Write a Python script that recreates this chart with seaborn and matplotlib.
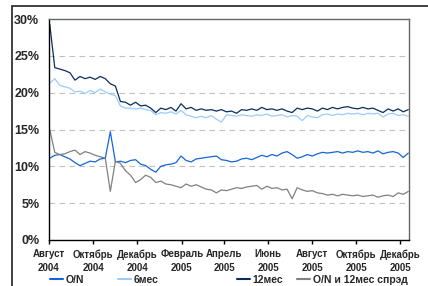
import pandas as pd
import matplotlib
matplotlib.use('Agg')
import matplotlib.pyplot as plt
import seaborn as sns
from matplotlib.lines import Line2D
from matplotlib.patches import Rectangle

# weekly readings, Aug 2004 - Dec 2005, % per year
start_date = '2004-08-02'
rate_on = [11.1, 11.5, 11.6, 11.3, 11.0, 10.5, 10.1, 10.4, 10.7, 10.6,
           11.0, 11.1, 14.7, 10.6, 10.7, 10.5, 10.8, 10.9, 10.3, 10.1,
           9.6, 9.2, 10.0, 10.2, 10.3, 10.5, 11.4, 10.8, 10.6, 11.0,
           11.1, 11.2, 11.3, 11.4, 10.9, 10.8, 10.6, 10.7, 11.0, 11.1,
           10.9, 11.2, 11.5, 11.3, 11.6, 11.4, 11.8, 12.0, 11.6, 11.1,
           11.3, 11.6, 11.4, 11.7, 11.9, 11.8, 11.9, 12.0, 11.8, 12.0,
           11.9, 12.1, 11.9, 12.0, 11.8, 12.1, 11.7, 11.9, 12.0, 11.8,
           11.2, 11.8]
rate_6m = [21.3, 21.9, 21.0, 20.8, 20.6, 20.1, 20.2, 19.9, 20.3, 20.0,
           20.5, 20.1, 19.8, 19.6, 18.2, 17.9, 17.9, 17.8, 17.9, 17.7,
           17.6, 17.0, 17.3, 17.2, 17.4, 17.1, 17.6, 17.0, 16.8, 16.6,
           16.8, 16.6, 16.9, 16.4, 16.0, 17.0, 16.9, 16.8, 17.0, 16.9,
           16.8, 17.0, 16.9, 17.1, 16.8, 16.9, 17.0, 16.7, 16.9, 16.8,
           16.2, 16.9, 16.7, 16.6, 17.0, 17.1, 16.9, 17.1, 17.0, 17.2,
           17.1, 17.2, 17.0, 17.2, 17.1, 17.2, 16.7, 17.1, 17.2, 16.9,
           17.0, 16.8]
rate_12m = [29.3, 23.4, 23.2, 23.0, 22.7, 21.7, 22.2, 21.9, 22.1, 21.8,
            22.2, 21.9, 21.2, 20.9, 18.8, 18.7, 18.3, 18.7, 18.2, 18.3,
            17.9, 17.3, 17.9, 17.7, 18.0, 17.5, 18.5, 17.8, 18.0, 17.6,
            17.8, 17.6, 17.7, 17.5, 17.7, 17.4, 17.5, 17.2, 17.7, 17.6,
            17.8, 17.6, 18.0, 17.7, 17.8, 17.6, 17.8, 17.5, 17.3, 17.9,
            17.7, 17.9, 17.8, 17.5, 17.9, 17.7, 18.0, 17.8, 18.0, 18.1,
            17.9, 17.8, 18.0, 17.8, 17.9, 17.6, 17.3, 17.8, 17.5, 17.8,
            17.4, 17.7]
spread = [15.0, 11.9, 11.6, 11.7, 12.0, 12.2, 11.6, 12.0, 11.8, 11.5,
          11.3, 11.1, 6.6, 10.7, 10.4, 9.4, 8.8, 7.8, 8.2, 8.8,
          8.5, 7.8, 8.0, 7.6, 7.5, 7.3, 7.1, 7.6, 7.3, 7.5,
          7.2, 6.9, 6.8, 6.4, 6.8, 6.7, 6.9, 7.1, 7.0, 7.2,
          7.3, 7.4, 6.9, 7.3, 7.0, 7.1, 6.8, 6.9, 5.6, 7.1,
          6.8, 6.6, 6.7, 6.4, 6.3, 6.1, 6.2, 6.0, 6.2, 6.1,
          6.0, 6.1, 5.9, 6.0, 6.1, 5.8, 6.0, 6.1, 5.9, 6.4,
          6.2, 6.6]

series_names = ['O/N', '6мес', '12мес', 'O/N и 12мес спрэд']
colors = ['#1565d8', '#99ccff', '#0b2d5e', '#808080']

tick_dates = ['2004-08-01', '2004-10-01', '2004-12-01', '2005-02-01', '2005-04-01',
              '2005-06-01', '2005-08-01', '2005-10-01', '2005-12-01']
tick_labels = ['Август\n2004', 'Октябрь\n2004', 'Декабрь\n2004', 'Февраль\n2005',
               'Апрель\n2005', 'Июнь\n2005', 'Август\n2005', 'Октябрь\n2005',
               'Декабрь\n2005']

dates = pd.date_range(start_date, periods=len(rate_on), freq='7D')
wide = pd.DataFrame({'date': dates, series_names[0]: rate_on, series_names[1]: rate_6m,
                     series_names[2]: rate_12m, series_names[3]: spread})
long = wide.melt(id_vars='date', var_name='series', value_name='value')

sns.set_style('white')
plt.rcParams['font.family'] = ['Liberation Sans', 'DejaVu Sans']

fig = plt.figure(figsize=(4.28, 2.86), dpi=100)
ax = fig.add_axes([49 / 428, 1 - 240 / 286, 360 / 428, 221 / 286])

# outer frame of the chart object (cut off on the right and bottom)
fig.patches.append(Rectangle((12 / 428, -0.1), 1.0, 1.1 - 6 / 286, transform=fig.transFigure,
                             fill=False, edgecolor='#333333', lw=1.3))

for y in [5, 10, 15, 20, 25]:
    ax.axhline(y, color='#c0c0c0', lw=0.8, dashes=(5, 4), zorder=0)

sns.lineplot(data=long, x='date', y='value', hue='series', hue_order=series_names,
             palette=colors, linewidth=0.9, legend=False, ax=ax)

ax.set_xlim(pd.Timestamp('2004-08-01'), pd.Timestamp('2005-12-13'))
ax.set_ylim(0, 30)
ax.set_yticks([0, 5, 10, 15, 20, 25, 30])
ax.set_yticklabels([f'{v}%' for v in [0, 5, 10, 15, 20, 25, 30]], fontsize=9, fontweight='bold')
ax.set_xticks(pd.to_datetime(tick_dates))
ax.set_xticklabels(tick_labels, fontsize=7, fontweight='bold', linespacing=1.45)
ax.tick_params(axis='y', length=0, pad=7)
ax.tick_params(axis='x', direction='out', length=3, width=1, color='black', pad=3.5, bottom=True)
ax.set_xlabel('')
ax.set_ylabel('')

for side in ['left', 'bottom']:
    ax.spines[side].set_color('black')
    ax.spines[side].set_linewidth(1.0)
for side in ['top', 'right']:
    ax.spines[side].set_color('#666666')
    ax.spines[side].set_linewidth(1.0)

# legend entries placed the way the original spaces them
legend_x = [50, 118, 237, 297]
for name, col, lx in zip(series_names, colors, legend_x):
    h = Line2D([], [], color=col, lw=1.5)
    lg = fig.legend([h], [name], loc='center left', bbox_to_anchor=(lx / 428, 0.022),
                    frameon=False, handlelength=1.2, handletextpad=0.3, borderpad=0,
                    borderaxespad=0, prop={'size': 7.5, 'weight': 'bold'})

fig.savefig('out.png', dpi=100)
